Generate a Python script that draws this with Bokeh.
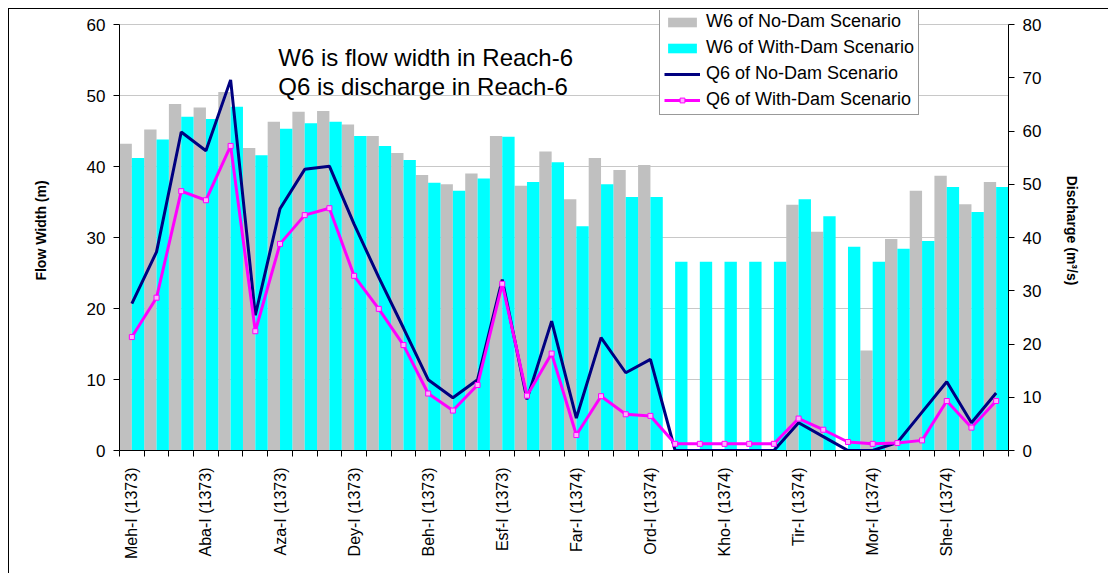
import numpy as np
from bokeh.plotting import figure
from bokeh.models import Range1d, LinearAxis, FixedTicker, Legend, LegendItem, Label
from bokeh.embed import file_html
from bokeh.resources import INLINE

months = ["Meh", "Aba", "Aza", "Dey", "Beh", "Esf", "Far", "Ord", "Kho", "Tir", "Mor", "She"]
years = [1373] * 6 + [1374] * 6
parts = ["I", "II", "III"]
categories = [f"{m}-{p} ({y})" for m, y in zip(months, years) for p in parts]

w6_no_dam = [43.2, 45.2, 48.8, 48.3, 50.5, 42.6, 46.3, 47.7, 47.8, 45.9, 44.3, 41.9,
             38.8, 37.5, 39.0, 44.3, 37.3, 42.1, 35.4, 41.2, 39.5, 40.2, 0, 0,
             0, 0, 0, 34.6, 30.8, 0, 14.1, 29.8, 36.6, 38.7, 34.7, 37.8]
w6_with_dam = [41.2, 43.8, 47.0, 46.7, 48.4, 41.6, 45.3, 46.1, 46.3, 44.3, 42.9, 40.9,
               37.7, 36.6, 38.3, 44.2, 37.8, 40.6, 31.6, 37.5, 35.7, 35.7, 26.6, 26.6,
               26.6, 26.6, 26.6, 35.4, 33.0, 28.7, 26.6, 28.4, 29.5, 37.1, 33.6, 37.1]
q6_no_dam = [27.6, 37.3, 59.8, 56.3, 69.6, 25.4, 45.4, 52.8, 53.4, 42.5, 32.5, 23.0,
             13.3, 9.9, 13.3, 32.1, 9.6, 24.3, 6.1, 21.2, 14.6, 17.1, 0, 0,
             0, 0, 0, 5.2, 2.6, 0, 0, 1.5, 7.2, 12.9, 5.2, 10.8]
q6_with_dam = [21.3, 28.7, 48.7, 47.0, 57.2, 22.4, 38.8, 44.2, 45.5, 32.8, 26.6, 19.8,
               10.7, 7.5, 12.3, 31.3, 10.3, 18.2, 2.9, 10.2, 6.8, 6.5, 1.25, 1.25,
               1.25, 1.25, 1.25, 6.0, 3.9, 1.6, 1.25, 1.4, 1.9, 9.3, 4.3, 9.3]

FONT = "Liberation Sans"
n = len(categories)
idx = np.arange(n)

# frame spans 440 px; the 60 / 80 ticks sit 14 px below its top so the legend can rise above them
W_TOP = 60 * 440 / 426
Q_TOP = 80 * 440 / 426

p = figure(width=1100, height=565, output_backend="svg", toolbar_location=None,
           x_range=Range1d(0, n), y_range=Range1d(0, W_TOP),
           min_border_left=110, min_border_right=101, min_border_top=1, min_border_bottom=124)
p.styles = {"margin-left": "8px", "margin-top": "8px",
            "border-top": "1px solid black", "border-left": "1px solid black"}
p.outline_line_color = None
p.background_fill_color = "white"
p.border_fill_color = "white"
p.extra_y_ranges = {"q": Range1d(0, Q_TOP)}

p.xgrid.visible = False
p.ygrid.grid_line_color = "#c8c8c8"
p.ygrid.grid_line_width = 1
p.yaxis.ticker = FixedTicker(ticks=list(range(0, 61, 10)))

gray = p.vbar(x=idx + 0.25, top=w6_no_dam, width=0.5, fill_color="#C0C0C0", line_color=None)
cyan = p.vbar(x=idx + 0.75, top=w6_with_dam, width=0.5, fill_color="#00FFFF", line_color=None)
navy = p.line(idx + 0.5, q6_no_dam, y_range_name="q", line_color="#000080", line_width=3)
mag = p.line(idx + 0.5, q6_with_dam, y_range_name="q", line_color="#FF00FF", line_width=3)
magm = p.scatter(idx + 0.5, q6_with_dam, y_range_name="q", marker="square", size=5,
                 line_color="#FF00FF", fill_color="#FFB0FF", line_width=1)

ax = p.yaxis[0]
ax.bounds = (0, 60)
ax.axis_label = "Flow Width (m)"
ax.axis_label_text_font = FONT
ax.axis_label_text_font_style = "bold"
ax.axis_label_text_font_size = "14px"
ax.axis_label_text_color = "black"
ax.axis_label_standoff = 35
ax.major_label_text_font = FONT
ax.major_label_text_font_size = "17px"
ax.major_label_text_color = "black"
ax.major_label_standoff = 8
ax.major_tick_out = 6
ax.major_tick_in = 0
ax.minor_tick_out = 0
ax.minor_tick_in = 0
ax.axis_line_color = "black"
ax.major_tick_line_color = "black"

rax = LinearAxis(y_range_name="q", ticker=FixedTicker(ticks=list(range(0, 81, 10))))
rax.bounds = (0, 80)
rax.axis_label = "Discharge (m\u00b3/s)"
rax.axis_label_text_font = FONT
rax.axis_label_text_font_style = "bold"
rax.axis_label_text_font_size = "14px"
rax.axis_label_text_color = "black"
rax.axis_label_standoff = 20
rax.major_label_text_font = FONT
rax.major_label_text_font_size = "17px"
rax.major_label_text_color = "black"
rax.major_label_standoff = 8
rax.major_tick_out = 6
rax.major_tick_in = 0
rax.minor_tick_out = 0
rax.minor_tick_in = 0
rax.axis_line_color = "black"
rax.major_tick_line_color = "black"
p.add_layout(rax, "right")

xa = p.xaxis[0]
label_pos = [i + 0.5 for i in range(0, n, 3)]
xa.ticker = FixedTicker(ticks=label_pos, minor_ticks=list(range(0, n + 1)))
xa.major_label_overrides = {i + 0.5: categories[i] for i in range(0, n, 3)}
xa.major_label_orientation = np.pi / 2
xa.major_label_text_font = FONT
xa.major_label_text_font_size = "16px"
xa.major_label_text_color = "black"
xa.major_label_standoff = 11
xa.major_tick_out = 0
xa.major_tick_in = 0
xa.minor_tick_out = 6
xa.minor_tick_in = 0
xa.minor_tick_line_color = "black"
xa.axis_line_color = "black"

p.add_layout(Label(x=6.43, y=55.4, text="W6 is flow width in Reach-6", text_font=FONT,
                   text_font_size="24px", text_baseline="alphabetic", text_color="black"))
p.add_layout(Label(x=6.43, y=51.2, text="Q6 is discharge in Reach-6", text_font=FONT,
                   text_font_size="24px", text_baseline="alphabetic", text_color="black"))

legend = Legend(items=[
    LegendItem(label="W6 of No-Dam Scenario", renderers=[gray]),
    LegendItem(label="W6 of With-Dam Scenario", renderers=[cyan]),
    LegendItem(label="Q6 of No-Dam Scenario", renderers=[navy]),
    LegendItem(label="Q6 of With-Dam Scenario", renderers=[mag, magm]),
], location=(540, 335))
legend.label_text_font = FONT
legend.label_text_font_size = "18px"
legend.label_text_color = "black"
legend.label_height = 20
legend.glyph_height = 12
legend.glyph_width = 36
legend.spacing = 5
legend.padding = 4
legend.margin = 0
legend.label_standoff = 6
legend.border_line_color = "#333333"
legend.border_line_width = 1
legend.background_fill_color = "white"
legend.background_fill_alpha = 1
p.add_layout(legend, "center")

open("out.html", "w").write(file_html(p, INLINE))
